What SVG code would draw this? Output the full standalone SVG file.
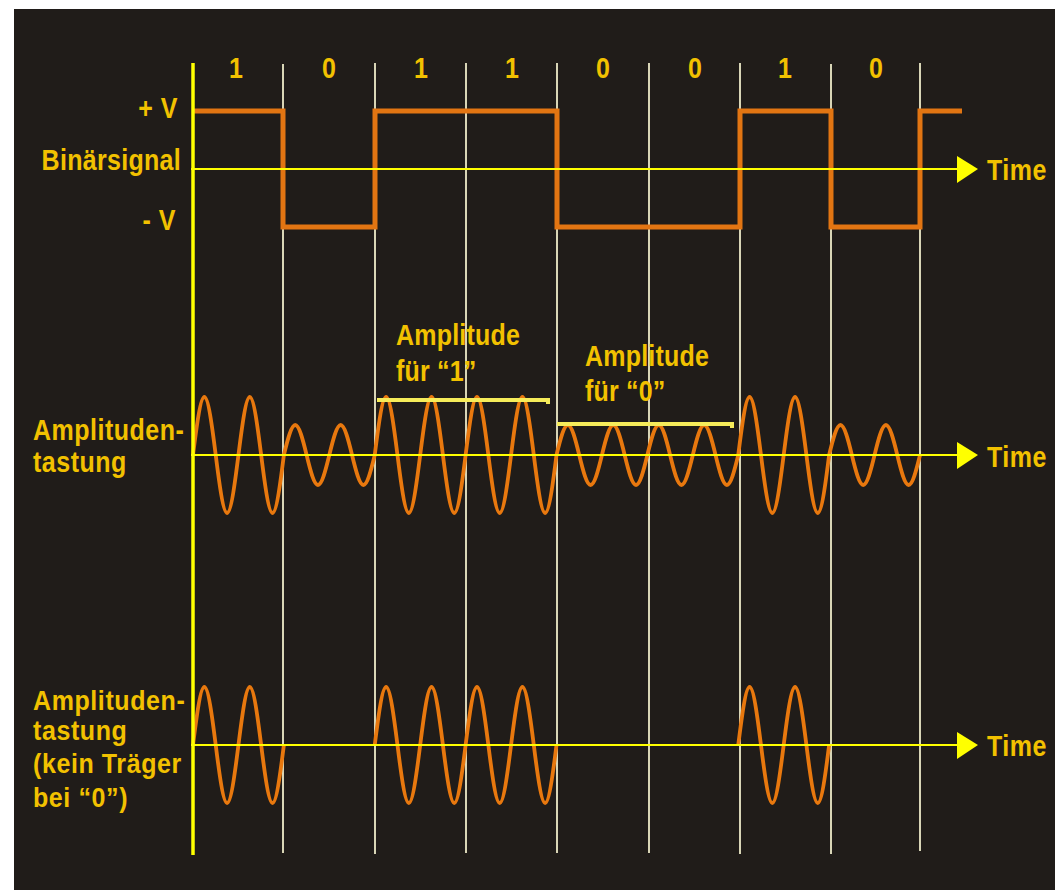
<svg xmlns="http://www.w3.org/2000/svg" width="1055" height="890" viewBox="0 0 1055 890">
<style>
.t{font-family:"Liberation Sans",Arial,sans-serif;font-weight:bold;font-size:25px;fill:#f2c100}
.grid{stroke:#d8d5b6;stroke-width:2}
.axis{stroke:#ffff00;stroke-width:2}
.arrow{fill:#ffff00}
.sq{fill:none;stroke:#e27512;stroke-width:5;stroke-linejoin:miter}
.bar{fill:none;stroke:#f6ec5a;stroke-width:4}
</style>
<defs>
<path id="big" fill="none" stroke="#e8780e" stroke-width="3.8" d="M0,0 c3.71,-29.74 7.54,-58 11.36,-58 s7.65,28.26 11.36,58 s7.54,58 11.36,58 s7.65,-28.26 11.36,-58 s7.54,-58 11.36,-58 s7.65,28.26 11.36,58 s7.54,58 11.36,58 s7.65,-28.26 11.36,-58"/>
<path id="small" fill="none" stroke="#e8780e" stroke-width="3.8" d="M0,0 c3.71,-15.38 7.54,-30 11.36,-30 s7.65,14.62 11.36,30 s7.54,30 11.36,30 s7.65,-14.62 11.36,-30 s7.54,-30 11.36,-30 s7.65,14.62 11.36,30 s7.54,30 11.36,30 s7.65,-14.62 11.36,-30"/>
</defs>
<rect x="0" y="0" width="1055" height="890" fill="#ffffff"/>
<rect x="14" y="9" width="1041" height="881" fill="#201c19"/>

<g id="grid">
<line class="grid" x1="283" y1="64" x2="283" y2="853"/>
<line class="grid" x1="375" y1="63" x2="375" y2="854"/>
<line class="grid" x1="466" y1="63" x2="466" y2="853"/>
<line class="grid" x1="557" y1="63" x2="557" y2="853"/>
<line class="grid" x1="649" y1="63" x2="649" y2="853"/>
<line class="grid" x1="740" y1="63" x2="740" y2="854"/>
<line class="grid" x1="831" y1="64" x2="831" y2="854"/>
<line class="grid" x1="920" y1="63" x2="920" y2="851"/>
</g>

<g id="bits">
<text class="t" font-size="23" text-anchor="middle" transform="translate(236,78) scale(1,1.2)">1</text>
<text class="t" font-size="23" text-anchor="middle" transform="translate(329,78) scale(1,1.2)">0</text>
<text class="t" font-size="23" text-anchor="middle" transform="translate(421,78) scale(1,1.2)">1</text>
<text class="t" font-size="23" text-anchor="middle" transform="translate(512,78) scale(1,1.2)">1</text>
<text class="t" font-size="23" text-anchor="middle" transform="translate(603,78) scale(1,1.2)">0</text>
<text class="t" font-size="23" text-anchor="middle" transform="translate(695,78) scale(1,1.2)">0</text>
<text class="t" font-size="23" text-anchor="middle" transform="translate(785,78) scale(1,1.2)">1</text>
<text class="t" font-size="23" text-anchor="middle" transform="translate(876,78) scale(1,1.2)">0</text>
</g>

<g id="binary-signal">
<text class="t" text-anchor="end" transform="translate(178,118) scale(1,1.2)" letter-spacing="0.5">+ V</text>
<text class="t" text-anchor="end" transform="translate(181,170) scale(1,1.2)" letter-spacing="0.3">Binärsignal</text>
<text class="t" text-anchor="end" transform="translate(176,230) scale(1,1.2)" letter-spacing="0.5">- V</text>
<path class="sq" d="M193,111 H283 V227 H375 V111 H557 V227 H740 V111 H831 V227 H920 V111 H962"/>
</g>

<g id="ask">
<text class="t" font-size="26" letter-spacing="0.5" transform="translate(33,440) scale(1,1.15)"><tspan x="0" y="0">Amplituden-</tspan><tspan x="0" y="27.8">tastung</tspan></text>
<use href="#big" x="193" y="455"/>
<use href="#small" x="283.875" y="455"/>
<use href="#big" x="374.75" y="455"/>
<use href="#big" x="465.625" y="455"/>
<use href="#small" x="556.5" y="455"/>
<use href="#small" x="647.375" y="455"/>
<use href="#big" x="738.25" y="455"/>
<use href="#small" x="829.125" y="455"/>
</g>

<g id="amp1">
<text class="t" letter-spacing="0.2" transform="translate(396,345) scale(1,1.2)"><tspan x="0" y="0">Amplitude</tspan><tspan x="0" y="30">für “1”</tspan></text>
<path class="bar" d="M377,400 H548 V404"/>
</g>

<g id="amp0">
<text class="t" letter-spacing="0.2" transform="translate(585,366) scale(1,1.2)"><tspan x="0" y="0">Amplitude</tspan><tspan x="0" y="29">für “0”</tspan></text>
<path class="bar" d="M557,424 H732 V428"/>
</g>

<g id="ook">
<text class="t" font-size="25" letter-spacing="0.6" transform="translate(33,710) scale(1,1.1)"><tspan x="0" y="0">Amplituden-</tspan><tspan x="0" y="27.3">tastung</tspan><tspan x="0" y="57.3">(kein Träger</tspan><tspan x="0" y="88.2">bei “0”)</tspan></text>
<use href="#big" x="193" y="745"/>
<use href="#big" x="374.75" y="745"/>
<use href="#big" x="465.625" y="745"/>
<use href="#big" x="738.25" y="745"/>
</g>

<g id="connectors">
<line x1="193" y1="63" x2="193" y2="855" stroke="#ffff00" stroke-width="3.5"/>
<line class="axis" x1="191" y1="169" x2="960" y2="169"/>
<polygon class="arrow" points="957,156 978,169 957,183"/>
<line class="axis" x1="191" y1="455" x2="960" y2="455"/>
<polygon class="arrow" points="957,442 978,455 957,469"/>
<line class="axis" x1="191" y1="745" x2="960" y2="745"/>
<polygon class="arrow" points="957,732 978,745 957,759"/>
</g>

<g id="time-labels">
<text class="t" font-size="26" letter-spacing="0.5" transform="translate(987,180) scale(1,1.2)">Time</text>
<text class="t" font-size="26" letter-spacing="0.5" transform="translate(987,467) scale(1,1.2)">Time</text>
<text class="t" font-size="26" letter-spacing="0.5" transform="translate(987,756) scale(1,1.2)">Time</text>
</g>
</svg>
